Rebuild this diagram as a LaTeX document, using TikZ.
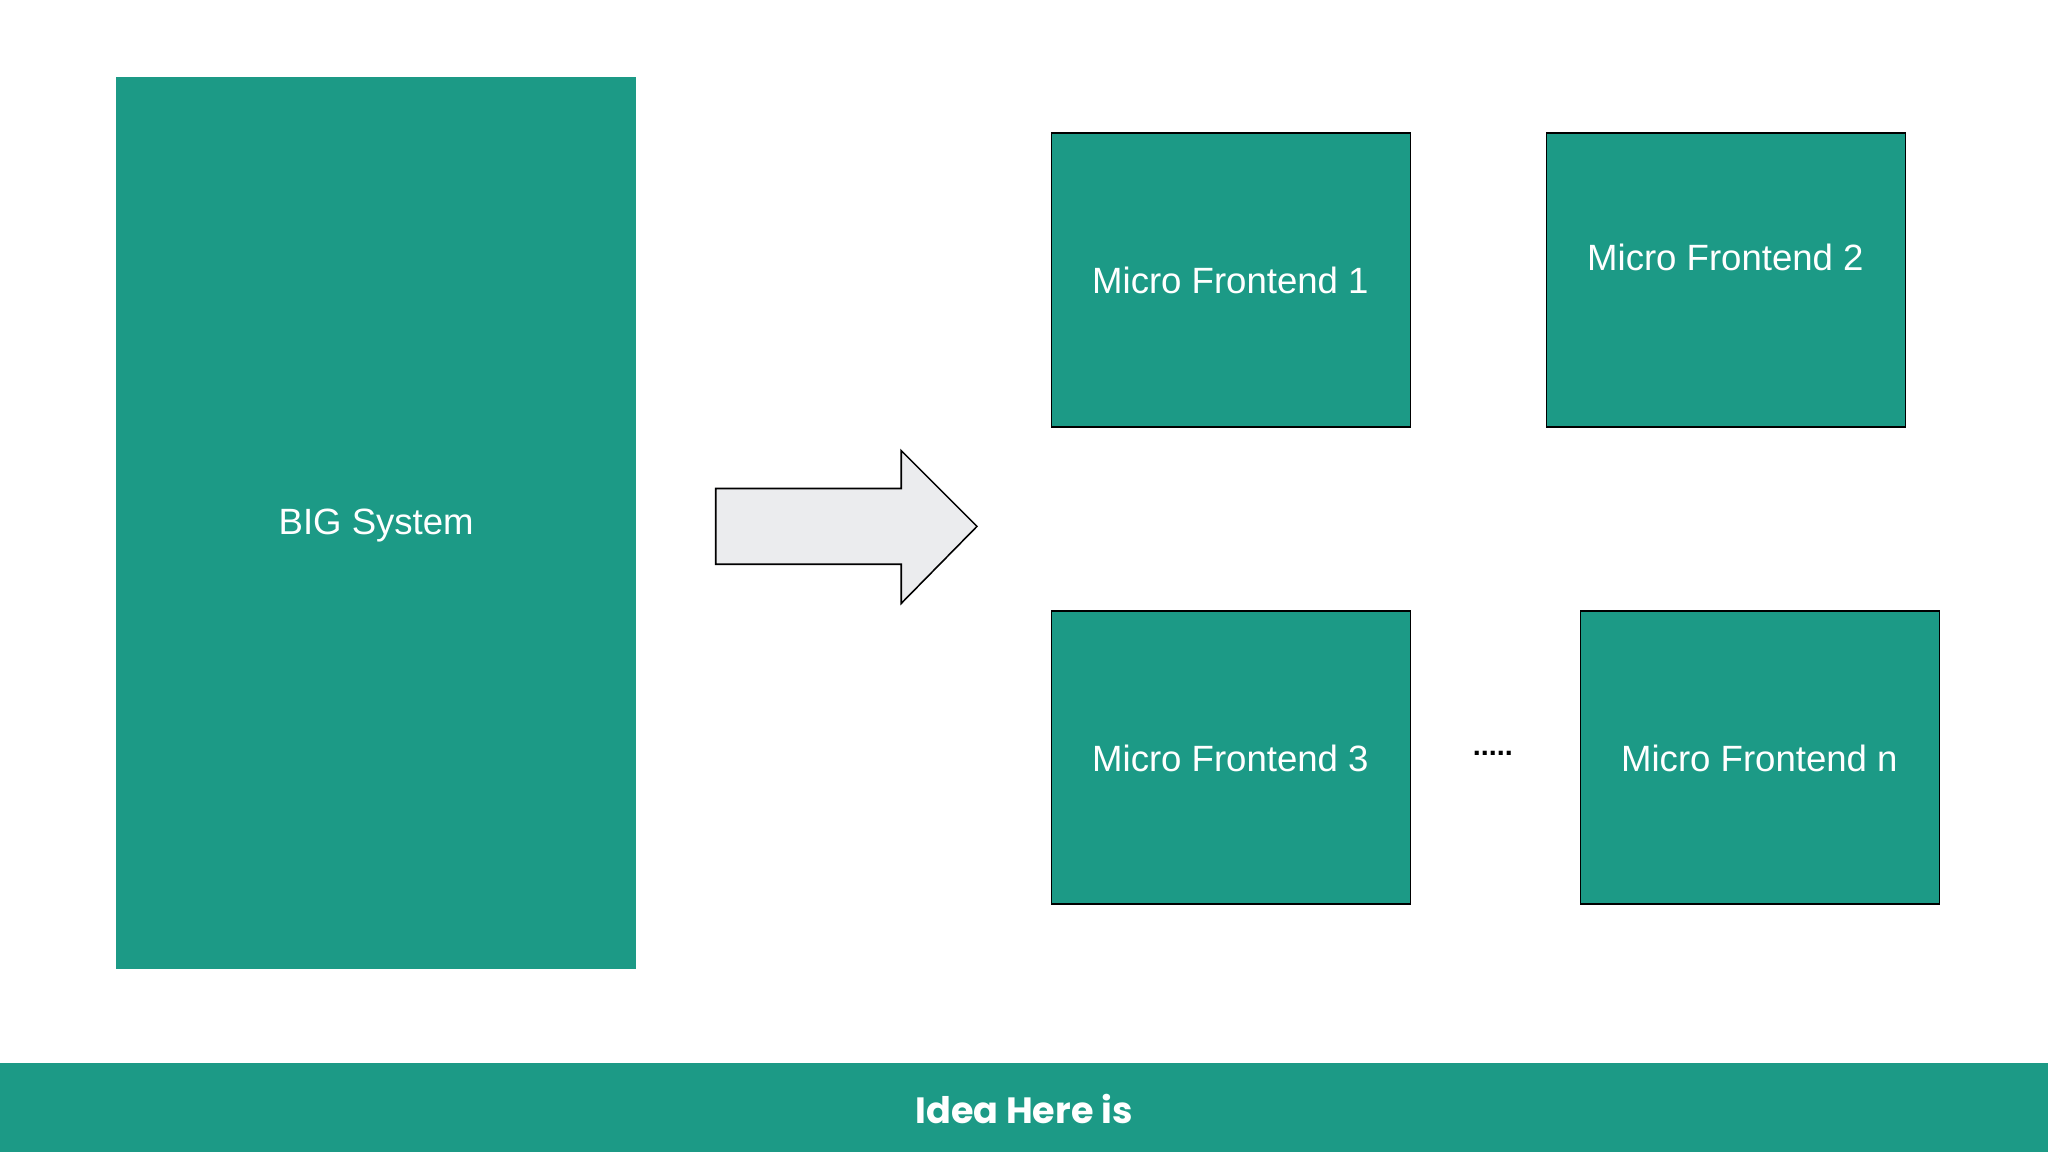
\documentclass[tikz,border=0pt]{standalone}
\usepackage{fontspec}
\setmainfont{Liberation Sans}
\newfontfamily\popfont{Poppins}
\definecolor{teal1}{HTML}{1C9A86}
\definecolor{arrowgray}{HTML}{EBECEE}
\tikzset{
  mfbox/.style={draw=black, line width=1.2pt, fill=teal1},
  lbl/.style={text=white, font=\fontsize{28}{32}\selectfont, inner sep=0pt},
}
\begin{document}
\begin{tikzpicture}[x=1pt,y=-1pt]
\useasboundingbox (0,0) rectangle (1568,882);
\fill[white] (0,0) rectangle (1568,882);
% big system
\fill[teal1] (89,59) rectangle (487,742);
\node[lbl] (big) at (288,402) {BIG System};
% arrow
\draw[fill=arrowgray, line width=1.2pt] (548,374) -- (690,374) -- (690,345) -- (748,403) -- (690,462) -- (690,432) -- (548,432) -- cycle;
% boxes
\draw[mfbox] (805,102) rectangle (1080,327);
\node[lbl] (mf1) at (942,215) {Micro Frontend 1};
\draw[mfbox] (1184,102) rectangle (1459,327);
\node[lbl] (mf2) at (1321,197) {Micro Frontend 2};
\draw[mfbox] (805,468) rectangle (1080,692);
\node[lbl] (mf3) at (942,581) {Micro Frontend 3};
\draw[mfbox] (1210,468) rectangle (1485,692);
\node[lbl] (mfn) at (1347,581) {Micro Frontend n};
\node[font=\fontsize{22}{24}\selectfont\bfseries, inner sep=0pt] (dots) at (1143,577) {.....};
% bottom bar
\fill[teal1] (0,814) rectangle (1568,882);
\node[text=white, font=\popfont\fontsize{28}{32}\selectfont\bfseries, inner sep=0pt] (idea) at (784,849) {Idea Here is};
\end{tikzpicture}
\end{document}
